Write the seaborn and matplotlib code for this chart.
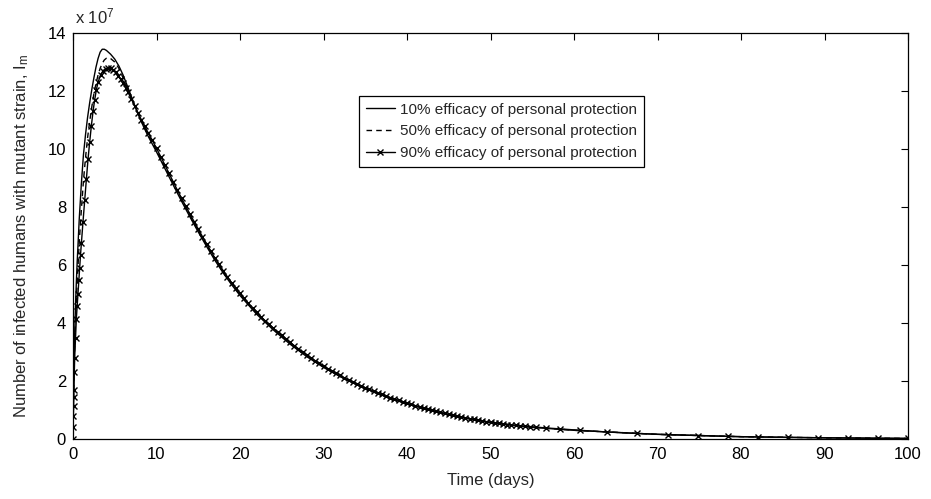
import numpy as np
import pandas as pd
import matplotlib
matplotlib.use('Agg')
import matplotlib.pyplot as plt
import seaborn as sns

# values in units of 1e7
days_10 = [0, 0.1, 0.2, 0.3, 0.4, 0.5, 0.75, 1.0, 1.25, 1.5, 1.75, 2.0, 2.25, 2.5, 2.75,
           3.0, 3.25, 3.5, 3.75, 4.0, 4.5, 5.0, 5.5, 6.0, 6.5, 7.0, 7.5, 8.0, 8.5, 9.0,
           10, 11, 12, 13, 14, 15, 16, 17, 18, 19, 20, 22, 24, 26, 28, 30, 32, 34, 36,
           38, 40, 43, 46, 50, 55, 60, 65, 70, 75, 80, 85, 90, 95, 100]
im_10 = [0, 2.2, 3.6, 4.6, 5.4, 6.1, 7.6, 8.8, 9.8, 10.5, 11.1, 11.6, 12.05, 12.45, 12.82,
         13.12, 13.34, 13.44, 13.44, 13.4, 13.27, 13.1, 12.86, 12.55, 12.18, 11.8, 11.42,
         11.06, 10.74, 10.44, 9.9, 9.33, 8.76, 8.2, 7.66, 7.14, 6.64, 6.16, 5.72, 5.32,
         4.95, 4.3, 3.76, 3.27, 2.84, 2.47, 2.15, 1.87, 1.62, 1.4, 1.21, 0.97, 0.77, 0.56,
         0.4, 0.3, 0.23, 0.16, 0.12, 0.08, 0.06, 0.04, 0.03, 0.02]

days_50 = [0, 0.1, 0.2, 0.3, 0.4, 0.5, 0.75, 1.0, 1.25, 1.5, 1.75, 2.0, 2.25, 2.5, 2.75,
           3.0, 3.25, 3.5, 3.75, 4.0, 4.25, 4.5, 5.0, 5.5, 6.0, 6.5, 7.0, 7.5, 8.0, 8.5,
           9.0, 10, 11, 12, 13, 14, 15, 16, 17, 18, 19, 20, 22, 24, 26, 28, 30, 32, 34,
           36, 38, 40, 43, 46, 50, 55, 60, 65, 70, 75, 80, 85, 90, 95, 100]
im_50 = [0, 1.9, 3.2, 4.1, 4.8, 5.4, 6.8, 7.9, 8.9, 9.7, 10.4, 10.95, 11.45, 11.9, 12.25,
         12.55, 12.78, 12.95, 13.07, 13.13, 13.15, 13.12, 13.0, 12.78, 12.45, 12.1, 11.74,
         11.4, 11.08, 10.78, 10.5, 9.96, 9.4, 8.82, 8.25, 7.71, 7.19, 6.69, 6.2, 5.76,
         5.35, 4.98, 4.33, 3.78, 3.29, 2.86, 2.49, 2.16, 1.88, 1.62, 1.41, 1.22, 0.98,
         0.78, 0.57, 0.41, 0.3, 0.23, 0.16, 0.12, 0.08, 0.06, 0.04, 0.03, 0.02]

days_90 = [0, 0.02, 0.04, 0.06, 0.08, 0.1, 0.15, 0.2, 0.3, 0.4, 0.5, 0.6, 0.7, 0.8, 0.9,
           1.0, 1.2, 1.4, 1.6, 1.8, 2.0, 2.2, 2.4, 2.6, 2.8, 3.0, 3.3, 3.6, 3.9, 4.2, 4.5,
           4.8, 5.1, 5.4, 5.7, 6.0, 6.3, 6.6, 7.0, 7.4, 7.8, 8.2, 8.6, 9.0, 9.5,
           10.0, 10.5, 11.0, 11.5, 12.0, 12.5, 13.0, 13.5, 14.0, 14.5, 15.0, 15.5, 16.0,
           16.5, 17.0, 17.5, 18.0, 18.5, 19.0, 19.5, 20.0, 20.5, 21.0, 21.5, 22.0, 22.5,
           23.0, 23.5, 24.0, 24.5, 25.0, 25.5, 26.0, 26.5, 27.0, 27.5, 28.0, 28.5, 29.0,
           29.5, 30.0, 30.5, 31.0, 31.5, 32.0, 32.5, 33.0, 33.5, 34.0, 34.5, 35.0, 35.5,
           36.0, 36.5, 37.0, 37.5, 38.0, 38.5, 39.0, 39.5, 40.0, 40.5, 41.0, 41.5, 42.0,
           42.5, 43.0, 43.5, 44.0, 44.5, 45.0, 45.5, 46.0, 46.5, 47.0, 47.5, 48.0, 48.5,
           49.0, 49.5, 50.0, 50.5, 51.0, 51.5, 52.0, 52.5, 53.0, 53.5, 54.1, 54.7, 55.5,
           56.7, 58.3, 60.7, 64.0, 67.6, 71.2, 74.8, 78.4, 82.0, 85.6, 89.2, 92.8, 96.4, 100]
im_90 = [0, 0.4, 0.8, 1.15, 1.45, 1.7, 2.3, 2.8, 3.5, 4.15, 4.6, 5.0, 5.5, 5.9, 6.35,
         6.75, 7.5, 8.25, 8.95, 9.65, 10.25, 10.8, 11.3, 11.7, 12.05, 12.3, 12.55, 12.7,
         12.77, 12.8, 12.79, 12.74, 12.64, 12.52, 12.4, 12.26, 12.12, 11.95, 11.72, 11.48,
         11.24, 11.0, 10.78, 10.56, 10.3,
         10.02, 9.74, 9.45, 9.16, 8.87, 8.58, 8.3, 8.03, 7.76, 7.5, 7.24, 6.98, 6.73,
         6.48, 6.24, 6.02, 5.8, 5.59, 5.39, 5.2, 5.02, 4.85, 4.68, 4.52, 4.37, 4.22,
         4.08, 3.95, 3.82, 3.69, 3.57, 3.45, 3.33, 3.22, 3.11, 3.0, 2.9, 2.8, 2.7,
         2.61, 2.52, 2.43, 2.35, 2.27, 2.19, 2.11, 2.04, 1.97, 1.9, 1.83, 1.77, 1.71,
         1.65, 1.59, 1.54, 1.48, 1.43, 1.38, 1.33, 1.28, 1.24, 1.19, 1.15, 1.11, 1.07,
         1.03, 0.99, 0.95, 0.92, 0.88, 0.85, 0.82, 0.79, 0.76, 0.73, 0.7, 0.68, 0.65,
         0.63, 0.6, 0.58, 0.56, 0.54, 0.52, 0.5, 0.49, 0.47, 0.46, 0.44, 0.43, 0.41,
         0.38, 0.35, 0.3, 0.24, 0.19, 0.15, 0.12, 0.09, 0.07, 0.055, 0.045, 0.035, 0.025, 0.02]

labels = ['10% efficacy of personal protection',
          '50% efficacy of personal protection',
          '90% efficacy of personal protection']

sns.set_style('white')
plt.rcParams['font.family'] = ['Liberation Sans', 'DejaVu Sans']
plt.rcParams['mathtext.fontset'] = 'custom'
plt.rcParams['mathtext.rm'] = 'Liberation Sans'
plt.rcParams['mathtext.it'] = 'Liberation Sans'
fs = 12

fig = plt.figure(figsize=(9.31, 4.99), dpi=100)
ax = fig.add_axes([73 / 931, 60 / 499, 835 / 931, 406 / 499])

sns.lineplot(x=days_10, y=im_10, ax=ax, color='black', linewidth=1.0, label=labels[0])
sns.lineplot(x=days_50, y=im_50, ax=ax, color='black', linewidth=1.0, linestyle=(0, (4, 3)),
             label=labels[1])
# seaborn paints marker edges white by default, so force black x's
sns.lineplot(x=days_90, y=im_90, ax=ax, color='black', linewidth=1.0, marker='x',
             markersize=3.8, markeredgewidth=1.0, markeredgecolor='black', label=labels[2])

ax.set_xlim(0, 100)
ax.set_ylim(0, 14)
ax.set_xticks(range(0, 101, 10))
ax.set_yticks(range(0, 15, 2))
ax.tick_params(direction='in', length=5, width=0.8, top=True, right=True,
               labelsize=fs, colors='black')
ax.tick_params(axis='x', pad=6)
ax.tick_params(axis='y', pad=5)
for s in ax.spines.values():
    s.set_color('black')
    s.set_linewidth(0.9)

ax.set_xlabel('Time (days)', fontsize=fs, labelpad=8)
ax.set_ylabel('Number of infected humans with mutant strain, I$_\\mathrm{m}$', fontsize=fs,
              labelpad=12)
ax.text(0.002, 1.016, 'x 10$^7$', transform=ax.transAxes, ha='left', va='bottom',
        fontsize=fs)

leg = ax.legend(loc='upper left', bbox_to_anchor=(0.3425, 0.845), borderaxespad=0,
                fancybox=False, edgecolor='black', framealpha=1, fontsize=11,
                handlelength=1.9, handletextpad=0.33, labelspacing=0.5, borderpad=0.45)
leg.get_frame().set_linewidth(0.9)

plt.savefig('out.png', dpi=100)
